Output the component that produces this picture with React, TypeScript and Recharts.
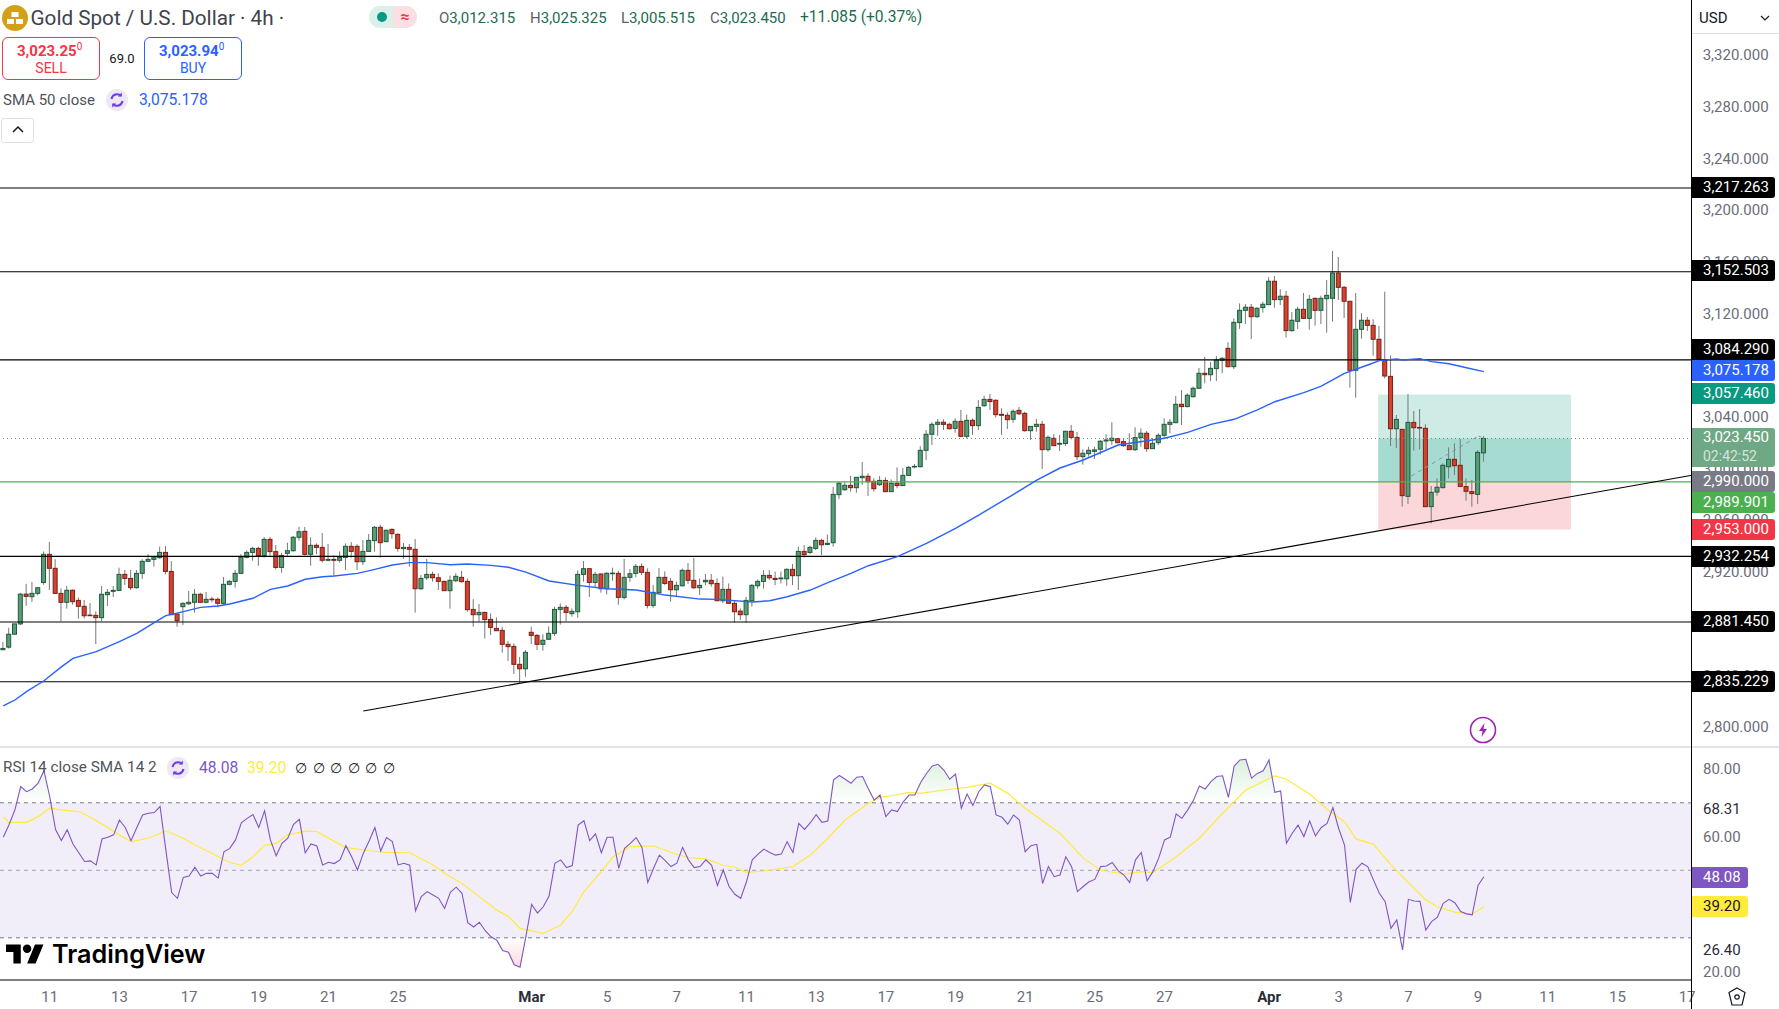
import React from "react";
import { ComposedChart, Bar, Line, Area, XAxis, YAxis, ReferenceLine, ReferenceArea } from "recharts";

const opens = [2860,2862,2872,2880,2903,2901,2903.6,2912,2933.8,2923,
2903.6,2896.7,2906,2898.2,2893.6,2886.8,2886.6,2884.8,2902.6,2905.2,
2905.9,2918.3,2915.2,2908,2919.1,2928.4,2929.9,2931.2,2935.3,2920.6,
2887.6,2893.3,2895.6,2896.7,2902.9,2896.7,2899.2,2899,2895.9,2910.6,
2912.9,2919.1,2931.5,2935.3,2938.4,2932.8,2945.4,2935.9,2923.7,2934.6,
2936.6,2947,2951.6,2933.8,2940.8,2939.2,2929.2,2929.9,2929.2,2931.5,
2940,2940,2928.1,2936.1,2944.4,2954.7,2943.6,2953.1,2949.3,2938.2,
2939.2,2937.7,2907.2,2915.7,2918.3,2915.7,2912.9,2905.7,2913.4,2916,
2912.9,2891.2,2887.1,2888.9,2883.5,2876.5,2875,2864.2,2862.6,2848.7,
2845.3,2873.5,2871.1,2864.2,2868.1,2872.7,2891.2,2892.8,2887.9,2889.4,
2918.3,2922.7,2912.1,2918.6,2907.2,2918.8,2919.1,2900.5,2916,2919.1,
2924.5,2919.9,2894.3,2904.1,2916,2912.9,2906.4,2909.5,2921.4,2913.7,
2908,2912.6,2913.7,2911.3,2897.9,2906.7,2895.9,2889.9,2887.1,2897.9,
2909.5,2912.9,2917.5,2915.2,2914.9,2914.9,2922.2,2917.3,2936.1,2935.3,
2938.4,2944.6,2941.5,2942.8,2980,2983.8,2987.2,2985.4,2993.1,2994.2,
2990.3,2987.7,2991,2982.3,2988.8,2987,2994.9,3001.4,3001.6,3014.3,
3026.7,3034.4,3036,3034.4,3031.3,3036.7,3025.1,3037.5,3033.4,3048.8,
3053.7,3053,3042.1,3041.4,3038.3,3045.2,3042.9,3029.5,3032.8,3034.4,
3014.8,3023.6,3019,3019.5,3029,3024.3,3009.4,3011.7,3013.5,3015.1,
3021.5,3021.8,3023.3,3021,3017.9,3014.8,3024.1,3027.5,3015.6,3020.2,
3025.9,3034.4,3035.7,3049.9,3048.1,3055.8,3062.3,3073.9,3072.8,3077.5,
3083.9,3093.2,3079,3113.1,3122.6,3125,3117.7,3124.7,3127,3145.1,
3130.9,3133.5,3106.9,3114.1,3123.4,3116.4,3131.9,3122.6,3131.6,3131.9,
3151.5,3140.4,3129.6,3076.2,3107.9,3114.9,3111,3100.2,3084.2,3071.5,
3031,3030.5,2978.7,3035.9,3032,3031.3,2970.7,2982,2985.4,3001.6,
3007.3,3002.7,2986.2,2982.3,2980.2,3012.315];

const closes = [2861,2872,2880,2903,2901.3,2903.6,2908,2933.8,2923,2903.6,
2896.7,2906,2897.2,2893.6,2886.3,2886.6,2884.8,2902.9,2904.4,2905.9,
2918.3,2915.2,2908,2919.1,2928.4,2929.9,2931.7,2935.3,2920.6,2887.1,
2882.5,2895.9,2896.7,2902.9,2896.7,2899,2898.7,2895.9,2910.6,2912.9,
2919.1,2931.5,2935.3,2938.4,2932.8,2945.4,2935.9,2923.7,2933,2936.6,
2947,2951.3,2933.8,2940.8,2939.2,2929.2,2929.9,2929.2,2931.5,2940,
2936.1,2928.1,2936.1,2944.6,2954.7,2942.8,2952.4,2949.8,2938.4,2939.2,
2937.7,2907.2,2915.2,2918.3,2915.7,2912.9,2905.7,2913.7,2916.8,2912.7,
2891,2887.1,2888.9,2883.3,2877.3,2874.7,2864.2,2862.4,2848.7,2845.3,
2858,2871.1,2864.2,2867.3,2872.7,2891.2,2892.8,2888.9,2889.7,2918.3,
2922.7,2912.1,2918.3,2907.2,2919.1,2919.3,2900.5,2916,2918.8,2924.5,
2919.9,2894.3,2904.4,2916,2911.3,2906.4,2909.8,2921.4,2913.7,2908,
2909.8,2913.7,2911.1,2897.9,2906.7,2895.9,2889.4,2887.1,2898.2,2909.8,
2912.9,2917.5,2915.7,2914.4,2915.5,2922.2,2917.3,2936.1,2933.5,2939.2,
2944.6,2941.2,2942.3,2980.2,2988.8,2987.2,2985.4,2993.4,2994.2,2990,
2984.6,2991,2982.3,2988.8,2987,2994.9,3001.1,3001.9,3014.3,3026.7,
3034.4,3036,3034.4,3031,3036.7,3025.1,3037.5,3033.4,3047.5,3053.7,
3052,3041.9,3041.4,3038,3044.5,3042.6,3029.5,3032.8,3034.4,3014.8,
3024.3,3017.9,3019.7,3029,3024.3,3009.4,3012,3014.3,3014.6,3021.3,
3022.3,3023.6,3020.2,3017.9,3014.8,3024.1,3027.5,3015.6,3019.7,3025.9,
3034.4,3036,3049.9,3048.1,3056.9,3062.3,3073.9,3072.8,3077.7,3084.2,
3085.5,3079,3113.3,3122.6,3125,3117.7,3124.2,3127.3,3145.1,3130.9,
3133.5,3106.9,3114.9,3123.4,3116.4,3131.1,3122.6,3131.9,3134.2,3151.5,
3140.4,3129.6,3076.2,3107.9,3114.9,3111,3100.2,3084.7,3071.8,3031,
3038.2,2979.2,3035.9,3031.8,3031.5,2970.7,2981.8,2985.7,3002.7,3007.3,
3002.4,2986.4,2982.6,2980.8,3012.7,3023.45];

const highs = [2866,2877,2880,2904,2911,2912.4,2908,2936,2943.3,2930,
2907.5,2909.3,2906.7,2900.5,2898.5,2896.1,2889.7,2909.3,2907,2909.3,
2923.5,2921.7,2921.7,2921.7,2930,2934,2932.5,2939.7,2940.2,2928.6,
2887.6,2896.7,2905.4,2907,2904.1,2904.7,2901,2900.5,2916.3,2914,
2921.7,2934,2936.9,2939.7,2939.7,2947.2,2947.2,2941,2935,2942.8,
2948,2955.2,2955,2947,2942.3,2950.3,2941.8,2933,2936,2942.3,
2943.3,2941.5,2944.9,2949.5,2955.7,2956.7,2953.1,2953.9,2950,2942.6,
2941.8,2945.7,2917.8,2930.2,2920.4,2919,2913.4,2917.3,2919.1,2920.9,
2915.2,2899.2,2895.4,2889.4,2888.1,2885,2877.8,2866.7,2864.9,2854.4,
2859.8,2877.8,2872.2,2871.9,2878.1,2893.3,2895.9,2894.6,2892,2921.4,
2928.6,2922.7,2920.4,2919,2920,2923.5,2921.1,2930.2,2922.4,2926.3,
2926.8,2923,2910,2923.2,2920.6,2915.5,2912.6,2922.9,2927,2931,
2915.2,2918.6,2918.6,2915.2,2916.5,2911.3,2898.4,2892,2900.8,2910.8,
2914.4,2921.6,2921.6,2920.4,2920.4,2922.9,2926.3,2939.7,2941,2940.5,
2946.9,2945.9,2949.2,2986,2990,2989.8,2994.4,2993.4,3005.3,2996.5,
2992.6,2994.4,2993.4,2991.8,3001.1,3000.6,3002.2,3003.7,3017.6,3030,
3036,3038.5,3038.3,3035.7,3039,3045.5,3041.9,3039,3053.2,3056.6,
3057.9,3053.7,3046.8,3043.7,3046,3047.8,3044.2,3033,3038.5,3037,
3025.9,3026.9,3026.2,3029.5,3033.9,3028.5,3015,3017,3017,3022.3,
3026.7,3036,3023.6,3023.6,3027.5,3032.1,3031.3,3029.3,3023.6,3027.5,
3039,3038.5,3056.3,3060.9,3058.4,3063.6,3078,3086.5,3082.6,3087.3,
3086.3,3097.9,3116.4,3128,3127.5,3127.5,3125,3129.3,3148.2,3149.2,
3138.9,3137.6,3121.3,3125.5,3136,3134.5,3132.4,3134,3146.1,3168.5,
3163.9,3141.4,3129.8,3136,3120.3,3117.5,3115.7,3110.5,3137,3087.8,
3041.6,3030.5,3057.8,3044.7,3046.2,3034.4,2986.7,2992.6,3004.2,3016.6,
3019.7,3023,2992.6,2991.3,3014.5,3025.325];

const lows = [2860,2861,2872,2879,2894,2897,2902,2910.3,2906.2,2903.6,
2882,2891.8,2894.9,2884,2884.3,2886,2864.4,2882.2,2893.8,2900.8,
2905.9,2910.1,2906.2,2907.2,2914.7,2928.1,2924.3,2930.4,2918.3,2887.1,
2877.8,2879.1,2894.6,2888.7,2896.4,2895.9,2896.7,2892.8,2895.1,2909.8,
2908,2919.1,2930.7,2928.9,2925,2931.2,2932,2922.2,2919.6,2932,
2935.9,2944.4,2933,2925,2934,2927.4,2928.4,2917,2927.4,2921.7,
2931.2,2921.7,2925.5,2935.9,2935.9,2931.2,2943.3,2945.9,2935.9,2930.4,
2924.3,2888.7,2906.2,2913.9,2912.7,2906.2,2905.4,2891.8,2912.4,2911.9,
2889.4,2877.8,2881.7,2868.6,2871.4,2874.7,2857.7,2851.3,2841.2,2834.5,
2839.1,2864.4,2859.8,2859.3,2867.5,2870.6,2879.4,2882,2885.6,2884.8,
2912.7,2900.8,2908.3,2904.1,2902.8,2913.4,2894.8,2898.9,2912.6,2916,
2917.8,2892,2892.5,2903.6,2910,2897.2,2901,2908.8,2910.8,2907,
2902.3,2910,2908.8,2897.9,2896,2895.9,2880.9,2883,2880.9,2893.3,
2907,2907.2,2913.9,2910,2911.3,2909.5,2910,2906.2,2931.2,2934,
2937.1,2933.3,2941,2939.7,2976.6,2983,2982.3,2981.5,2987.5,2979,
2982.3,2986.7,2982.3,2982.3,2984.9,2986.7,2994.4,3000.4,3001.1,3006.8,
3018.4,3025.6,3030,3030.5,3028,3024.9,3023.3,3026.2,3030,3048,
3045.5,3039.6,3026.2,3030.8,3035.7,3041.6,3028.7,3022.3,3028.7,2999.8,
3013.2,3017.9,3013.8,3017.6,3022.8,3006.8,3003.2,3009.4,3007.6,3011,
3015.1,3018.4,3019.7,3017.1,3014.6,3013.8,3017.1,3013,3015.6,3018.4,
3023.6,3027.5,3035.2,3033.9,3047.6,3055,3061.8,3066.1,3067.9,3067.9,
3073.9,3078.5,3077.2,3108.2,3112,3100.4,3116.7,3120.8,3126.7,3124.7,
3126.7,3101.5,3106.1,3108.2,3115.9,3107.7,3110.8,3112,3105.3,3113.9,
3130.6,3116.7,3062.8,3055,3100.7,3106.6,3087.5,3084.2,3070,3017.6,
3016.1,2970.7,2972.8,3014,3015,2970.7,2957.8,2979.2,2984.9,2992.6,
2995.2,2985.7,2975.3,2970.7,2972.8,3005.515];

const sma50Index = [0,1,2,4,7,10,12,16,20,23,26,28,31,34,37,39,43,46,49,52,55,57,61,64,67,70,73,77,80,84,87,90,94,99,104,109,114,120,123,129,132,135,139,142,146,149,154,159,164,168,174,178,182,186,192,200,204,208,212,216,219,224,227,231,235,237,240,241,244,246,249,252,255];
const sma50Values = [2816.5,2818.8,2821.1,2827.6,2836,2846.7,2853.3,2858.5,2866.2,2872.7,2881,2886.4,2889.5,2892.8,2893.8,2895.4,2899.8,2906.7,2909.3,2914.5,2916.5,2917,2919.1,2922.2,2925.6,2927.4,2927.4,2925.8,2926.3,2925.3,2923.8,2920,2913.2,2909.8,2907.2,2906.2,2902.3,2899.2,2899,2896.9,2897.9,2901,2906.2,2911.9,2919.1,2925,2932,2942.3,2953.9,2964.2,2980.2,2991.3,3000.6,3006.8,3018.4,3023.6,3028.2,3034.4,3038.3,3045.5,3051.9,3058.9,3064,3073.9,3080.3,3083.7,3085,3084.2,3085.2,3082.9,3081.3,3078.2,3075.178];

const rsiValues = [59.8,63.6,67.9,74.8,73.3,74.1,75.8,79.5,71.8,62.1,
58.8,62,57.8,55.2,52.6,52.8,51.6,59.3,59.8,60.5,
64.9,62.7,58.8,62.7,66.4,66.9,67.1,68.9,56,43.4,
41.7,47.9,48.3,50.9,48.3,49.1,49.1,47.7,55.5,56.5,
59,64.1,65.4,66.5,62.7,67.6,59,54.3,58,59.5,
63.6,65.1,55.2,57.8,57.2,51.6,52.4,52,53.1,57.3,
54,50.1,55,58.7,62.7,55.7,59.7,58.5,51.6,52.1,
51.5,38,42.2,43.7,42.7,41.7,38.7,43.5,45,43.2,
34.5,33.2,34.6,32.1,30.3,29.3,26.2,25.7,22,21.3,
30.3,39.9,37.3,39.2,42.4,52.1,53.1,50.8,51.4,63.4,
64.7,58.8,60.8,55.2,59.8,59.8,50.6,56.5,58,59.7,
56.8,46.4,50.6,54.5,52.9,51.1,52.1,56.8,53.1,50.8,
51.1,53.1,51.5,45.5,50.1,45.2,42.9,41.7,46.6,53.1,
54.8,56.3,55.3,54.5,54.8,58.5,55.3,63.9,62.1,64.1,
66.5,64.2,64.6,76.8,78.1,77,75.8,77.6,77.8,74.1,
70.8,72.3,65.9,67.9,67.4,70.3,72.3,72.3,76,78.7,
80.9,81.4,79.7,77,78.5,68.4,72.6,69.2,73.3,75.3,
74.8,66.4,65.7,63.7,66.4,64.9,55.5,57.3,57.7,46.1,
51.1,48.1,48.6,54,51.1,43.7,45.2,46.6,47.3,51.1,
51.3,52.3,49.9,48.6,46.4,53.1,55.3,46.9,49.6,53.6,
59,59.8,66.7,65.4,67.9,70.8,75,74.1,76.3,77.8,
78,71.6,80.9,82.7,82.9,77.3,78.7,79.5,82.7,73.1,
73.5,58,61,63.4,60,64.6,60.2,62.7,63.9,68.6,
62.4,57.5,40.5,50.3,52.1,51.1,47.1,43.2,40.7,32.8,
35.3,26.4,41.4,40.9,40.8,32.3,34.8,36.1,40.2,41.4,
40.4,37.8,37.1,36.8,45.5,48.08];

const rsiSmaIndex = [0,1,4,6,8,10,13,15,18,20,22,25,28,31,33,36,39,41,43,45,47,49,52,54,56,59,63,66,70,74,76,79,82,85,87,89,93,96,98,100,103,105,108,112,116,118,121,124,126,128,131,136,139,142,145,149,151,153,156,158,162,166,170,173,176,182,186,189,193,196,198,202,206,210,214,219,221,225,228,231,233,236,239,245,247,250,253,255];
const rsiSmaValues = [65.7,64.2,64.2,65.9,68.4,67.9,67.4,65.7,62.7,60.5,58.5,59.5,61.7,59.5,57.5,55,52.3,51.5,54,57.4,58,60.5,61.6,61.5,59.5,56.8,55.8,55.3,55.2,51.6,49.1,46.1,42.2,38.2,36.3,32.8,31.3,33.8,37.8,43.7,49.6,54,57,57.2,54.7,53.8,53.4,51.5,50.9,49.4,49.8,51.1,54.5,59.5,64.9,69.9,71.6,72.1,73.1,72.8,73.8,74.6,75.8,72.8,68.4,61,53.6,50.1,48.9,49.6,49.3,54,59.5,66.9,73.8,78,77,72.6,68.1,64.4,59.3,57.7,51.6,41.2,39.2,37.6,37,39.2];

const priceTicks = [3320,3280,3240,3200,3160,3120,3040,3000,2960,2920,2840,2800];
const levelLines = [3217.263,3152.503,3084.29,2932.254,2881.45,2835.229];
const dateTickIndex = [8,20,32,44,56,68,91,104,116,128,140,152,164,176,188,200,218,230,242,254,266,278,290];
const dateTickLabels = ["11","13","17","19","21","25","Mar","5","7","11","13","17","19","21","25","27","Apr","3","7","9","11","15","17"];
const rsiTicks = [80,68.31,60,26.4,20];
const tagTexts = ["3,217.263","3,152.503","3,084.290","3,075.178","3,057.460","2,990.000","2,989.901","2,953.000","2,932.254","2,881.450","2,835.229"];
const tagColors = ["#000","#000","#000","#2962ff","#089981","#787b86","#4caf50","#f23645","#000","#000","#000"];

const FONT = "Roboto, sans-serif";
const X_MIN = -0.568, X_MAX = 290.85;
const P_TOP = 3362.7, P_BOTTOM = 2784.75;
const R_TOP = 86.24, R_BOTTOM = 17.5;
const tagCenters = [187.6,270.7,349,370.7,393.7,481,502.5,529.5,556,621,681];

const sparse = (idx: number[], vals: number[]) => {
  const m = new Map<number, number>();
  idx.forEach((k, n) => m.set(k, vals[n]));
  return m;
};
const smaMap = sparse(sma50Index, sma50Values);
const rsiSmaMap = sparse(rsiSmaIndex, rsiSmaValues);

const candleTable = opens.map((o, i) => ({
  i, open: o, close: closes[i], high: highs[i], low: lows[i], range: [lows[i], highs[i]], sma: smaMap.get(i) ?? null,
}));
const rsiTable = rsiValues.map((r, i) => ({
  i, rsi: r, sma: rsiSmaMap.get(i) ?? null, over: [70, Math.max(r, 70)], under: [Math.min(r, 30), 30],
}));

const Candle = (p: any) => {
  const { x, width, y, height, payload } = p;
  if (payload == null) return null;
  const span = Math.max(payload.high - payload.low, 0.01);
  const k = height / span;
  const cx = x + width / 2;
  const top = y + (payload.high - Math.max(payload.open, payload.close)) * k;
  const bot = y + (payload.high - Math.min(payload.open, payload.close)) * k;
  const up = payload.close >= payload.open;
  return (
    <g>
      <line x1={cx} x2={cx} y1={y} y2={y + height} stroke="#787878" strokeWidth={1} />
      <rect x={cx - 2} width={4} y={top} height={Math.max(bot - top, 0.6)} fill={up ? "#5a9c76" : "#d44230"} stroke={up ? "#1e5a3c" : "#7a1f14"} strokeWidth={1} />
    </g>
  );
};

const T = ({ x, y, c = "#131722", s = 15, w = 400, children, center, f }: any) => (
  <div style={{ position: "absolute", left: x, top: y, transform: center ? "translate(-50%,-50%)" : "translateY(-50%)", color: c, fontSize: s, fontWeight: w, whiteSpace: "nowrap", lineHeight: 1, fontFamily: f || FONT, zIndex: 5 }}>{children}</div>
);

const Refresh = ({ x, y }: any) => (
  <svg style={{ position: "absolute", left: x - 11, top: y - 11, zIndex: 5 }} width={22} height={22}>
    <circle cx={11} cy={11} r={11} fill="#ede7f6" />
    <path d="M5.5 10a5.7 5.7 0 0 1 9.5-3.2M16.5 12a5.7 5.7 0 0 1-9.5 3.2" fill="none" stroke="#6a3de8" strokeWidth={2} />
    <path d="M15.8 3.6v4h-4zM6.2 18.4v-4h4z" fill="#6a3de8" />
  </svg>
);

const Tag = ({ text, color, cy }: any) => (
  <div style={{ position: "absolute", left: 1692, top: cy - 10.5, width: 83, height: 21, background: color, color: "#fff", fontFamily: FONT, fontSize: 15, lineHeight: "21px", borderRadius: "0 3px 3px 0", zIndex: 6, paddingLeft: 11, boxSizing: "border-box", whiteSpace: "nowrap" }}>{text}</div>
);

const PriceTick = (p: any) => (
  <text x={1702.7} y={p.y} dy={5} fill="#6a6d78" fontSize={15} fontFamily={FONT}>
    {p.payload.value.toLocaleString("en-US", { minimumFractionDigits: 3, maximumFractionDigits: 3 })}
  </text>
);
const RsiTick = (p: any) => (
  <text x={1703} y={p.y} dy={5} fill={p.payload.value === 68.31 || p.payload.value === 26.4 ? "#2a2e39" : "#6a6d78"} fontSize={15} fontFamily={FONT}>
    {p.payload.value.toFixed(2)}
  </text>
);
const DateTick = (p: any) => {
  const label = dateTickLabels[dateTickIndex.indexOf(p.payload.value)];
  const month = label === "Mar" || label === "Apr";
  return (
    <text x={p.x} y={249} dy={5} textAnchor="middle" fill={month ? "#2a2e39" : "#6a6d78"} fontWeight={month ? 700 : 400} fontSize={15} fontFamily={FONT}>
      {label}
    </text>
  );
};

export default function App() {
  return (
    <div style={{ position: "absolute", left: 0, top: 0, width: 1779, height: 1009, background: "#fff", overflow: "hidden", fontFamily: FONT }}>
      <div style={{ position: "absolute", left: 0, top: 0 }}>
        <ComposedChart width={1779} height={747} data={candleTable} margin={{ top: 0, right: 0, bottom: 0, left: 0 }}>
          <XAxis dataKey="i" type="number" domain={[X_MIN, X_MAX]} hide height={0} allowDataOverflow />
          <YAxis orientation="right" width={87} domain={[P_BOTTOM, P_TOP]} ticks={priceTicks} interval={0} tick={<PriceTick />} tickLine={false} axisLine={false} allowDataOverflow />
          <ReferenceArea x1={236.8} x2={270} y1={2990} y2={3057.46} fill="#089981" fillOpacity={0.2} stroke="none" />
          <ReferenceArea x1={236.8} x2={270} y1={2953} y2={2990} fill="#f23645" fillOpacity={0.2} stroke="none" />
          <ReferenceArea x1={236.8} x2={270} y1={2990} y2={3023.45} fill="#089981" fillOpacity={0.2} stroke="none" />
          <ReferenceLine y={3023.45} stroke="#4f9a78" strokeDasharray="1 3" strokeWidth={1} />
          <ReferenceLine y={2989.901} stroke="#4caf50" strokeWidth={1.2} />
          {levelLines.map((v) => (
            <ReferenceLine key={v} y={v} stroke="#000" strokeWidth={1.1} />
          ))}
          <ReferenceLine segment={[{ x: 62, y: 2812.6 }, { x: X_MAX, y: 2995 }]} stroke="#000" strokeWidth={1.1} />
          <Bar dataKey="range" barSize={5} shape={<Candle />} isAnimationActive={false} />
          <Line dataKey="sma" type="linear" connectNulls dot={false} activeDot={false} stroke="#2962ff" strokeWidth={1.4} isAnimationActive={false} />
          <ReferenceLine segment={[{ x: 242.5, y: 2994.4 }, { x: 254.1, y: 3025.4 }]} stroke="#8f8f96" strokeDasharray="4 4" strokeWidth={1} />
          <ReferenceLine segment={[{ x: 254.1, y: 3025.4 }, { x: 255, y: 3023.45 }]} stroke="#8f8f96" strokeDasharray="3 2" strokeWidth={1} />
        </ComposedChart>
      </div>

      <div style={{ position: "absolute", left: 0, top: 748 }}>
        <ComposedChart width={1779} height={261} data={rsiTable} margin={{ top: 0, right: 0, bottom: 0, left: 0 }}>
          <defs>
            <linearGradient id="obFill" x1="0" y1="0" x2="0" y2="1">
              <stop offset="0%" stopColor="#4caf50" stopOpacity={0.32} />
              <stop offset="100%" stopColor="#4caf50" stopOpacity={0} />
            </linearGradient>
            <linearGradient id="osFill" x1="0" y1="0" x2="0" y2="1">
              <stop offset="0%" stopColor="#f23645" stopOpacity={0} />
              <stop offset="100%" stopColor="#f23645" stopOpacity={0.32} />
            </linearGradient>
          </defs>
          <XAxis dataKey="i" type="number" domain={[X_MIN, X_MAX]} ticks={dateTickIndex} interval={0} height={29} tick={<DateTick />} tickLine={false} axisLine={{ stroke: "#000", strokeWidth: 1 }} allowDataOverflow />
          <YAxis orientation="right" width={87} domain={[R_BOTTOM, R_TOP]} ticks={rsiTicks} interval={0} tick={<RsiTick />} tickLine={false} axisLine={false} allowDataOverflow />
          <ReferenceArea y1={30} y2={70} fill="#7e57c2" fillOpacity={0.1} stroke="none" />
          <ReferenceLine y={70} stroke="#787b86" strokeDasharray="4 4" />
          <ReferenceLine y={50} stroke="#a0a3ab" strokeDasharray="4 4" />
          <ReferenceLine y={30} stroke="#787b86" strokeDasharray="4 4" />
          <Area dataKey="over" type="linear" stroke="none" fill="url(#obFill)" dot={false} activeDot={false} isAnimationActive={false} />
          <Area dataKey="under" type="linear" stroke="none" fill="url(#osFill)" dot={false} activeDot={false} isAnimationActive={false} />
          <Line dataKey="sma" type="linear" connectNulls dot={false} activeDot={false} stroke="#ffeb3b" strokeWidth={1.2} isAnimationActive={false} />
          <Line dataKey="rsi" type="linear" dot={false} activeDot={false} stroke="#7e57c2" strokeWidth={1.1} isAnimationActive={false} />
        </ComposedChart>
      </div>

      {/* frame lines */}
      <div style={{ position: "absolute", left: 1691, top: 0, width: 1, height: 1009, background: "#000", zIndex: 4 }} />
      <div style={{ position: "absolute", left: 0, top: 746, width: 1691, height: 2, background: "#e0e3eb", zIndex: 4 }} />
      <div style={{ position: "absolute", left: 1692, top: 746, width: 87, height: 2, background: "#e0e3eb", zIndex: 4 }} />

      {/* header */}
      <svg style={{ position: "absolute", left: 2, top: 5, zIndex: 5 }} width={26} height={26}>
        <circle cx={13} cy={13} r={13} fill="#d4a017" />
        <rect x={9.5} y={7} width={7} height={5} fill="#fff" />
        <rect x={5} y={14} width={7} height={5} fill="#fff" />
        <rect x={14} y={14} width={7} height={5} fill="#fff" />
      </svg>
      <T x={30.5} y={18} s={20.7} c="#3f424d">Gold Spot / U.S. Dollar · 4h ·</T>
      <div style={{ position: "absolute", left: 369, top: 6, width: 24, height: 22, background: "#dcefe9", borderRadius: "11px 0 0 11px", zIndex: 5 }} />
      <div style={{ position: "absolute", left: 393, top: 6, width: 24, height: 22, background: "#fbdfe2", borderRadius: "0 11px 11px 0", zIndex: 5 }} />
      <div style={{ position: "absolute", left: 377, top: 12, width: 10, height: 10, background: "#089981", borderRadius: 5, zIndex: 6 }} />
      <T x={405} y={17} s={16} c="#f23645" w={700} center>≈</T>
      {[["O", "3,012.315", 439], ["H", "3,025.325", 530], ["L", "3,005.515", 621], ["C", "3,023.450", 710]].map(([a, b, x]: any) => (
        <T key={a} x={x} y={18} s={15}>
          <span style={{ color: "#5d606b" }}>{a}</span>
          <span style={{ color: "#1e6b52" }}>{b}</span>
        </T>
      ))}
      <T x={800} y={18} s={15.6} c="#1e6b52">+11.085 (+0.37%)</T>

      <div style={{ position: "absolute", left: 2, top: 37, width: 98, height: 43, border: "1px solid #f23645", borderRadius: 6, boxSizing: "border-box", zIndex: 5 }} />
      <div style={{ position: "absolute", left: 144, top: 37, width: 98, height: 43, border: "1px solid #2962ff", borderRadius: 6, boxSizing: "border-box", zIndex: 5 }} />
      <T x={17} y={51} s={15} w={700} c="#f23645">3,023.25<sup style={{ fontSize: 10, fontWeight: 400, lineHeight: 0 }}>0</sup></T>
      <T x={51} y={68} s={14} c="#f23645" center>SELL</T>
      <T x={122} y={58} s={13} center>69.0</T>
      <T x={159} y={51} s={15} w={700} c="#2962ff">3,023.94<sup style={{ fontSize: 10, fontWeight: 400, lineHeight: 0 }}>0</sup></T>
      <T x={193} y={68} s={14} c="#2962ff" center>BUY</T>

      <T x={3} y={100} s={15} c="#4f525c">SMA 50 close</T>
      <Refresh x={117} y={100} />
      <T x={139} y={100} s={15.7} c="#2962ff">3,075.178</T>

      <div style={{ position: "absolute", left: 1, top: 118, width: 33, height: 25, border: "1px solid #e0e3eb", borderRadius: 3, boxSizing: "border-box", background: "#fff", zIndex: 5 }} />
      <svg style={{ position: "absolute", left: 11, top: 125, zIndex: 6 }} width={14} height={10}>
        <path d="M2 7l5-5 5 5" fill="none" stroke="#131722" strokeWidth={1.5} />
      </svg>

      {/* USD selector */}
      <div style={{ position: "absolute", left: 1692, top: 0, width: 87, height: 34, borderBottom: "1px solid #e0e3eb", boxSizing: "border-box", background: "#fff", zIndex: 5 }} />
      <T x={1699} y={18} s={15} c="#131722" >USD</T>
      <svg style={{ position: "absolute", left: 1760, top: 14, zIndex: 6 }} width={10} height={8}>
        <path d="M1 2l4 4 4-4" fill="none" stroke="#131722" strokeWidth={1.2} />
      </svg>

      {/* axis tags */}
      {tagTexts.map((t, n) => (
        <Tag key={t} text={t} color={tagColors[n]} cy={tagCenters[n]} />
      ))}
      <div style={{ position: "absolute", left: 1692, top: 428, width: 83, height: 39, background: "#6fa885", color: "#fff", fontFamily: FONT, fontSize: 15, borderRadius: "0 3px 3px 0", zIndex: 6, paddingLeft: 11, boxSizing: "border-box", lineHeight: "19px" }}>
        3,023.450
        <div style={{ color: "#d5e4da", fontSize: 14 }}>02:42:52</div>
      </div>

      {/* lightning */}
      <svg style={{ position: "absolute", left: 1469, top: 716, zIndex: 5 }} width={28} height={28}>
        <circle cx={14} cy={14} r={12.5} fill="#fff" stroke="#9c27b0" strokeWidth={1.6} />
        <path d="M15.5 7l-5.5 8h3.5l-1 6 5.5-8h-3.5z" fill="#9c27b0" />
      </svg>

      {/* RSI legend */}
      <T x={3} y={768} s={15.3} c="#4f525c">RSI 14 close SMA 14 2</T>
      <Refresh x={177.5} y={768} />
      <T x={199} y={768} s={15.7} c="#7e57c2">48.08</T>
      <T x={247} y={768} s={15.7} c="#ffeb3b">39.20</T>
      {[0, 1, 2, 3, 4, 5].map((n) => (
        <T key={n} x={295 + n * 17.5} y={768} s={14} c="#131722">∅</T>
      ))}

      <div style={{ position: "absolute", left: 1692, top: 866.5, width: 56, height: 21, background: "#7e57c2", color: "#fff", fontFamily: FONT, fontSize: 15, lineHeight: "21px", borderRadius: "0 3px 3px 0", zIndex: 6, paddingLeft: 11, boxSizing: "border-box" }}>48.08</div>
      <div style={{ position: "absolute", left: 1692, top: 896, width: 56, height: 21, background: "#ffeb3b", color: "#131722", fontFamily: FONT, fontSize: 15, lineHeight: "21px", borderRadius: "0 3px 3px 0", zIndex: 6, paddingLeft: 11, boxSizing: "border-box" }}>39.20</div>

      {/* TradingView watermark */}
      <svg style={{ position: "absolute", left: 6, top: 940, zIndex: 5 }} width={38} height={28} viewBox="0 0 36 26">
        <path d="M14 22H7V11H0V4h14v18zM28 22h-8l7.5-18h8L28 22z" fill="#000" />
        <circle cx={20} cy={8} r={4} fill="#000" />
      </svg>
      <T x={52} y={955} s={25.2} w={600} c="#000" f="Inter, sans-serif">TradingView</T>

      {/* settings icon */}
      <svg style={{ position: "absolute", left: 1727, top: 986, zIndex: 5 }} width={20} height={22}>
        <path d="M10 2l8 4.5v0L15 19H5L2 6.5z" fill="none" stroke="#131722" strokeWidth={1.2} />
        <circle cx={10} cy={11} r={2.2} fill="none" stroke="#131722" strokeWidth={1.2} />
      </svg>
    </div>
  );
}
